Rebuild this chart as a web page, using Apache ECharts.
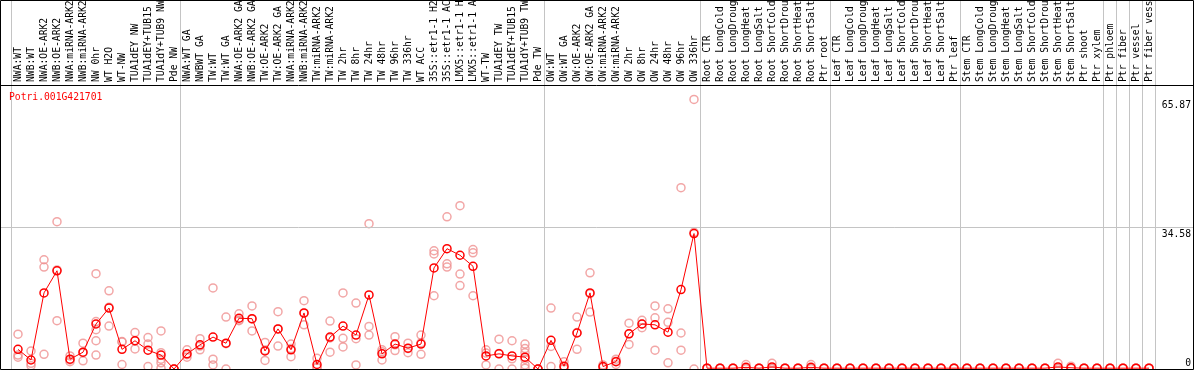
<!DOCTYPE html>
<html><head><meta charset="utf-8">
<script src="https://cdn.jsdelivr.net/npm/echarts@6/dist/echarts.min.js"></script>
<style>html,body{margin:0;padding:0;background:#fff}#c{width:1194px;height:370px}</style>
</head><body><div id="c"></div>
<script>
const geneTitle = 'Potri.001G421701';

const categories = [
  'NWA:WT','NWB:WT','NWA:OE-ARK2','NWB:OE-ARK2','NWA:miRNA-ARK2','NWB:miRNA-ARK2','NW 0hr','WT H2O','WT-NW','TUA1dEY NW','TUA1dEY+TUB15 NW','TUA1dY+TUB9 NW','Pde NW',
  'NWA:WT GA','NWBWT GA','TW:WT','TW:WT GA','NWA:OE-ARK2 GA','NWB:OE-ARK2 GA','TW:OE-ARK2','TW:OE-ARK2 GA','NWA:miRNA-ARK2','NWB:miRNA-ARK2','TW:miRNA-ARK2','TW:miRNA-ARK2',
  'TW 2hr','TW 8hr','TW 24hr','TW 48hr','TW 96hr','TW 336hr','WT ACC','35S::etr1-1 H2O','35S::etr1-1 ACC','LMX5::etr1-1 H2O','LMX5::etr1-1 ACC','WT-TW','TUA1dEY TW','TUA1dEY+TUB15 TW','TUA1dY+TUB9 TW','Pde TW',
  'OW:WT','OW:WT GA','OW:OE-ARK2','OW:OE-ARK2 GA','OW:miRNA-ARK2','OW:miRNA-ARK2','OW 2hr','OW 8hr','OW 24hr','OW 48hr','OW 96hr','OW 336hr',
  'Root CTR','Root LongCold','Root LongDrought','Root LongHeat','Root LongSalt','Root ShortCold','Root ShortDrought','Root ShortHeat','Root ShortSalt','Ptr root',
  'Leaf CTR','Leaf LongCold','Leaf LongDrought','Leaf LongHeat','Leaf LongSalt','Leaf ShortCold','Leaf ShortDrought','Leaf ShortHeat','Leaf ShortSalt','Ptr leaf',
  'Stem CTR','Stem LongCold','Stem LongDrought','Stem LongHeat','Stem LongSalt','Stem ShortCold','Stem ShortDrought','Stem ShortHeat','Stem ShortSalt','Ptr shoot','Ptr xylem',
  'Ptr phloem','Ptr fiber','Ptr vessel','Ptr fiber vessel'
];

const groupSizes = [13, 28, 12, 10, 10, 11, 1, 1, 1, 1];

const means = [
  4.8, 2.2, 18.6, 24.0, 2.4, 4.1, 11.0, 14.9, 4.8, 6.9, 4.6, 3.4, 0.0,
  3.7, 5.9, 7.8, 6.3, 12.4, 12.3, 4.4, 9.8, 4.7, 13.7, 1.1, 7.8,
  10.5, 8.3, 18.1, 3.7, 6.1, 5.1, 6.1, 24.7, 29.4, 27.8, 25.1, 3.2, 3.7, 3.2, 2.9, 0.0,
  7.0, 0.7, 8.8, 18.6, 0.6, 1.8, 8.6, 11.0, 10.8, 9.0, 19.4, 33.1,
  0.2, 0.2, 0.2, 0.4, 0.2, 0.5, 0.2, 0.2, 0.4, 0.2,
  0.2, 0.2, 0.2, 0.2, 0.2, 0.2, 0.2, 0.2, 0.2, 0.2,
  0.2, 0.2, 0.2, 0.2, 0.2, 0.2, 0.2, 0.5, 0.3, 0.2, 0.2,
  0.2, 0.2, 0.2, 0.2
];

const replicates = [
  [8.5, 3.4, 2.9], [4.4, 0.8, 1.4], [26.7, 24.9, 3.6], [36.0, 11.8, 24.2], [3.2, 2.2, 1.8], [6.3, 2.0, 4.0],
  [23.3, 11.6, 9.6, 6.9, 3.4], [19.1, 10.5, 15.1], [6.6, 1.1, 6.7], [8.9, 4.9, 6.9], [7.7, 6.1, 0.6],
  [9.3, 4.0, 2.4, 1.5, 0.2], [0, 0, 0],
  [4.7, 2.9, 3.5], [7.4, 4.7, 5.6], [19.8, 2.4, 1.0], [12.7, 0, 6.2], [13.5, 11.8, 12.0], [15.4, 9.3, 12.2],
  [6.5, 2.1, 4.6], [14.0, 5.6, 9.8], [6.1, 3.0, 5.0], [16.7, 10.8, 13.6], [2.6, 0.5, 0.3], [11.7, 4.1, 7.6],
  [18.6, 7.5, 5.4], [16.1, 7.4, 1.0], [35.5, 10.4, 8.3], [4.7, 2.2, 4.2], [7.9, 4.5, 5.9], [6.3, 4.0, 5.0],
  [8.3, 3.6, 6.4], [28.9, 28.1, 17.9], [37.2, 25.7, 24.9], [39.9, 23.2, 20.4], [29.2, 28.4, 17.9],
  [4.7, 3.9, 1.0], [7.3, 0, 3.8], [6.9, 2.5, 0], [6.1, 5.0, 4.0, 2.4, 1.0, 0.2], [0, 0, 0],
  [14.9, 5.5, 0.6], [1.8, 0.2, 0.1], [12.7, 4.8, 8.9], [23.5, 13.9, 18.4], [1.0, 0.4, 0.4], [2.4, 1.1, 1.9],
  [11.2, 6.0, 8.6], [11.9, 10.1, 11.0], [15.4, 12.5, 4.6], [14.7, 11.4, 1.5], [44.3, 8.8, 4.6], [65.87, 33.4, 0],
  [0.2, 0.2, 0.2], [0.2, 0.2, 0.2], [0.2, 0.2, 0.2], [1.1, 0.1, 0.1], [0.2, 0.2, 0.2],
  [1.4, 0.1, 0.1], [0.2, 0.2, 0.2], [0.2, 0.2, 0.2], [1.1, 0.1, 0.1], [0.2, 0.2, 0.2],
  [0.2, 0.2, 0.2], [0.2, 0.2, 0.2], [0.2, 0.2, 0.2], [0.2, 0.2, 0.2], [0.2, 0.2, 0.2],
  [0.2, 0.2, 0.2], [0.2, 0.2, 0.2], [0.2, 0.2, 0.2], [0.2, 0.2, 0.2], [0.2, 0.2, 0.2],
  [0.2, 0.2, 0.2], [0.2, 0.2, 0.2], [0.2, 0.2, 0.2], [0.2, 0.2, 0.2], [0.2, 0.2, 0.2],
  [0.2, 0.2, 0.2], [0.2, 0.2, 0.2], [1.4, 0.1, 0.1], [0.7, 0.2, 0.1], [0.2, 0.2, 0.2], [0.2, 0.2, 0.2],
  [0.2, 0.2, 0.2], [0.2, 0.2, 0.2], [0.2, 0.2, 0.2], [0.2, 0.2, 0.2]
];

const yLabelValues = [0, 34.58, 65.87];
const yGridValues = [34.58];
const yMax = 69.4;

const FONT = 'DejaVu Sans Mono';
const FS = 9.7;
const GRAY = '#c4c4c4';

const starts = [];
let acc = 0;
groupSizes.forEach(s => { starts.push(acc); acc += s; });

const repData = [];
replicates.forEach((arr, i) => arr.forEach(v => repData.push([i, v])));

const chart = echarts.init(document.getElementById('c'), null, {renderer: 'canvas'});
chart.setOption({
  animation: false,
  backgroundColor: '#fff',
  title: {
    text: geneTitle, left: 4, top: 87,
    textStyle: {color: '#ff0000', fontSize: FS, fontFamily: FONT, fontWeight: 'normal'}
  },
  grid: [
    {left: 11.5, width: 1144, top: 85, bottom: 1, outerBoundsMode: 'none', containLabel: false},
    {left: 0.5, right: 1, top: 85, bottom: 1, outerBoundsMode: 'none', containLabel: false},
    {left: 11.5, width: 1144, top: 0, bottom: 1, outerBoundsMode: 'none', containLabel: false}
  ],
  xAxis: [
    {
      gridIndex: 0, type: 'category', data: categories, position: 'top', boundaryGap: true,
      axisLine: {show: false}, axisTick: {show: false}, splitLine: {show: false},
      axisLabel: {rotate: 90, interval: 0, margin: 3, color: '#000', fontSize: FS, fontFamily: FONT, hideOverlap: false}
    },
    {
      gridIndex: 1, type: 'value', position: 'top', min: 0, max: 1,
      axisLine: {show: true, onZero: false, lineStyle: {color: '#000', width: 1}},
      axisTick: {show: false}, axisLabel: {show: false}, splitLine: {show: false}
    },
    {
      gridIndex: 2, type: 'category', data: categories, boundaryGap: true,
      axisLine: {show: false}, axisTick: {show: false}, axisLabel: {show: false},
      splitLine: {show: true, interval: (i) => starts.includes(i), lineStyle: {color: GRAY, width: 1}}
    }
  ],
  yAxis: [
    {gridIndex: 0, type: 'value', min: 0, max: yMax, show: false},
    {
      gridIndex: 1, type: 'value', min: 0, max: yMax, position: 'right',
      axisLine: {show: false}, axisTick: {show: false}, splitLine: {show: false},
      axisLabel: {
        inside: true, margin: 2, customValues: yLabelValues, color: '#000', fontSize: FS, fontFamily: FONT,
        formatter: v => (v === 0 ? '{z|0}' : '{t|' + v + '}'),
        rich: {
          z: {padding: [0, 0, 12, 0], fontSize: FS, fontFamily: FONT, color: '#000'},
          t: {padding: [13, 0, 0, 0], fontSize: FS, fontFamily: FONT, color: '#000'}
        }
      }
    },
    {gridIndex: 2, type: 'value', min: 0, max: 1, show: false}
  ],
  graphic: [{
    type: 'rect', silent: true, z: 100,
    shape: {x: 0.5, y: 0.5, width: 1193, height: 369},
    style: {fill: null, stroke: '#000', lineWidth: 1}
  }],
  series: [
    {
      type: 'line', xAxisIndex: 1, yAxisIndex: 1, data: [], silent: true,
      markLine: {
        silent: true, symbol: ['none', 'none'], label: {show: false},
        lineStyle: {color: GRAY, type: 'solid', width: 1},
        data: yGridValues.map(v => ({yAxis: v}))
      }
    },
    {
      type: 'scatter', xAxisIndex: 0, yAxisIndex: 0, data: repData, silent: true,
      symbol: 'circle', symbolSize: 8, clip: false, z: 3,
      itemStyle: {color: 'rgba(0,0,0,0)', borderColor: '#ef9090', borderWidth: 1.5}
    },
    {
      type: 'line', xAxisIndex: 0, yAxisIndex: 0, data: means, silent: true,
      symbol: 'circle', symbolSize: 8, showAllSymbol: true, clip: false, z: 4,
      lineStyle: {color: '#ff0000', width: 1},
      itemStyle: {color: 'rgba(0,0,0,0)', borderColor: '#ff0000', borderWidth: 1.5}
    }
  ]
});
</script>
</body></html>
